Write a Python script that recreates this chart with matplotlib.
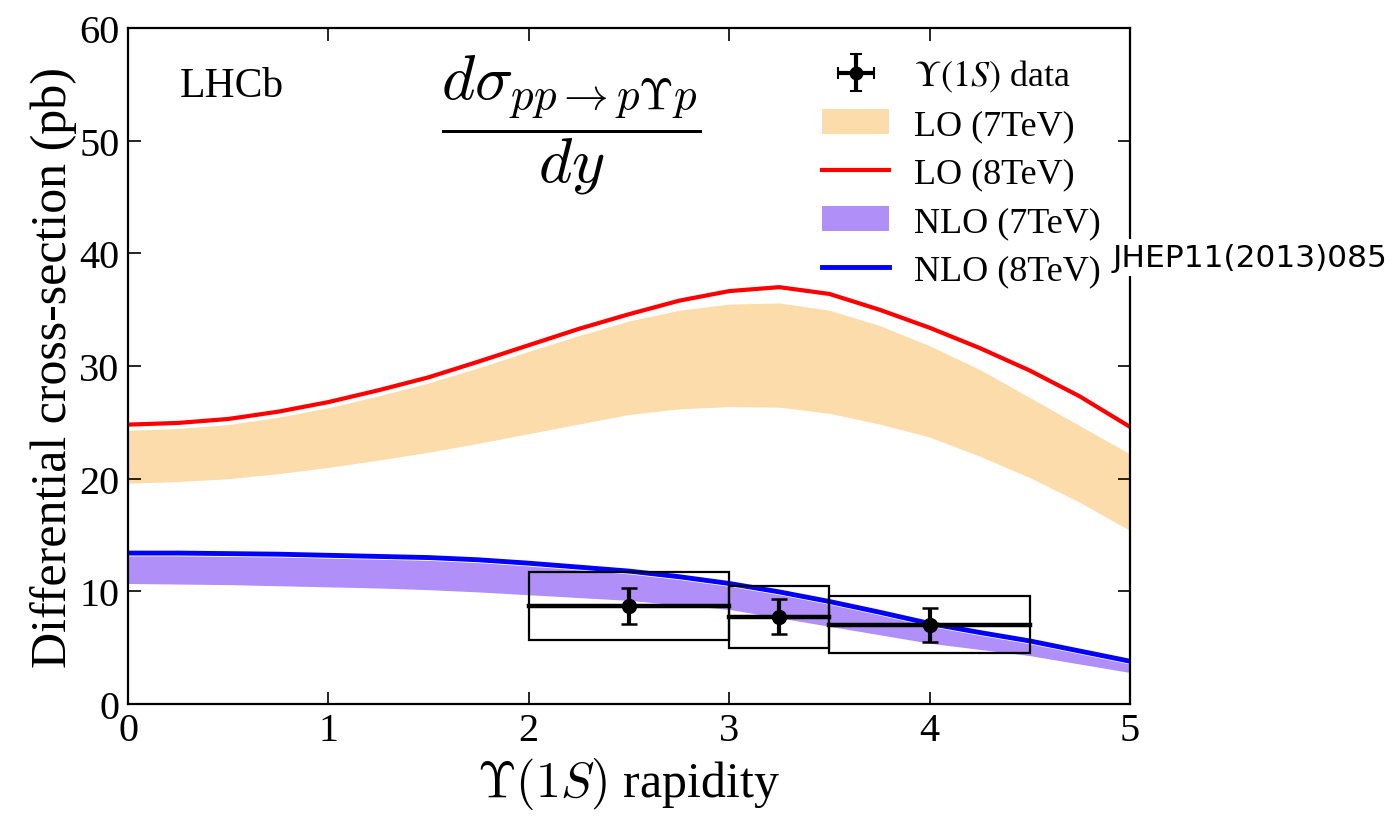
import matplotlib
matplotlib.use("Agg")
import numpy as np
import matplotlib.pyplot as plt
from matplotlib.patches import Rectangle, Patch
from matplotlib.lines import Line2D

# Rapidity grid for the theory curves
y_grid = [0.0, 0.25, 0.5, 0.75, 1.0, 1.25, 1.5, 1.75, 2.0, 2.25, 2.5,
          2.75, 3.0, 3.25, 3.5, 3.75, 4.0, 4.25, 4.5, 4.75, 5.0]

# LO 7 TeV band (pb)
lo7_upper = [24.3, 24.45, 24.8, 25.45, 26.3, 27.35, 28.5, 29.85, 31.3, 32.7, 34.0,
             34.95, 35.5, 35.6, 34.95, 33.6, 31.8, 29.7, 27.2, 24.7, 22.2]
lo7_lower = [19.6, 19.75, 20.0, 20.45, 21.0, 21.65, 22.35, 23.15, 24.0, 24.85, 25.7,
             26.2, 26.4, 26.35, 25.8, 24.85, 23.7, 22.0, 20.1, 17.9, 15.4]
# LO 8 TeV curve (pb)
lo8 = [24.8, 24.95, 25.3, 25.95, 26.8, 27.85, 29.0, 30.4, 31.85, 33.3, 34.6,
       35.8, 36.65, 37.0, 36.4, 35.0, 33.4, 31.6, 29.6, 27.3, 24.6]
# NLO 7 TeV band (pb)
nlo7_upper = [13.15, 13.15, 13.1, 13.05, 12.95, 12.85, 12.75, 12.55, 12.25, 11.9, 11.55,
              11.05, 10.45, 9.7, 8.85, 7.9, 6.9, 6.1, 5.35, 4.45, 3.55]
nlo7_lower = [10.7, 10.65, 10.6, 10.5, 10.4, 10.3, 10.15, 9.95, 9.7, 9.45, 9.2,
              8.8, 8.4, 7.65, 6.9, 6.15, 5.4, 4.85, 4.3, 3.55, 2.8]
# NLO 8 TeV curve (pb)
nlo8 = [13.4, 13.4, 13.35, 13.3, 13.2, 13.1, 13.0, 12.8, 12.5, 12.15, 11.8,
        11.3, 10.7, 9.95, 9.1, 8.15, 7.15, 6.35, 5.6, 4.7, 3.8]

# Measured Upsilon(1S) cross-section per rapidity bin
bin_low = [2.0, 3.0, 3.5]
bin_high = [3.0, 3.5, 4.5]
data_y = [2.5, 3.25, 4.0]
data_val = [8.7, 7.75, 7.05]
data_stat = [1.6, 1.55, 1.5]
data_tot = [3.0, 2.75, 2.53]

xticks = [0, 1, 2, 3, 4, 5]
yticks = [0, 10, 20, 30, 40, 50, 60]

SERIF = "Liberation Serif"
ORANGE = "#fddcab"
PURPLE = "#b08ff9"

fig = plt.figure(figsize=(13.99, 8.20), dpi=100)
ax = fig.add_axes([0.0915, 0.1402, 0.7162, 0.8244])

ax.fill_between(y_grid, lo7_lower, lo7_upper, color=ORANGE, lw=0)
ax.fill_between(y_grid, nlo7_lower, nlo7_upper, color=PURPLE, lw=0)
ax.plot(y_grid, lo8, color="#ff0000", lw=3)
ax.plot(y_grid, nlo8, color="#0000ff", lw=3.5)

for lo, hi, v, t in zip(bin_low, bin_high, data_val, data_tot):
    ax.add_patch(Rectangle((lo, v - t), hi - lo, 2 * t, fill=False,
                           edgecolor="black", lw=1.6, zorder=4))
    ax.plot([lo, hi], [v, v], color="black", lw=3.2, zorder=5)
ax.errorbar(data_y, data_val, yerr=data_stat, fmt="o", color="black",
            ms=10, elinewidth=3, capsize=6, capthick=1.8, zorder=6)

# legend handle: point with horizontal and vertical bars
data_handle = ax.errorbar([np.nan], [np.nan], xerr=[1.0], yerr=[1.0], fmt="o",
                          color="black", ms=9, elinewidth=3, capsize=4,
                          capthick=1.5)

ax.set_xlim(0, 5)
ax.set_ylim(0, 60)
ax.set_xticks(xticks)
ax.set_yticks(yticks)
ax.tick_params(direction="in", length=9, width=1.2, top=True, right=True,
               labelsize=29, pad=6)
for lab in ax.get_xticklabels() + ax.get_yticklabels():
    lab.set_fontfamily(SERIF)
for sp in ax.spines.values():
    sp.set_linewidth(1.6)

ax.set_xlabel(r"$\Upsilon(1S)$ rapidity", fontsize=36, family=SERIF,
              math_fontfamily="cm", labelpad=4)
ax.set_ylabel("Differential cross-section (pb)", fontsize=36, family=SERIF,
              labelpad=2)

ax.text(0.052, 0.9, "LHCb", transform=ax.transAxes, fontsize=30, family=SERIF)
ax.text(0.443, 0.858, r"$\dfrac{d\sigma_{pp\rightarrow p\Upsilon p}}{dy}$",
        transform=ax.transAxes, fontsize=46, math_fontfamily="cm",
        ha="center", va="center")

handles = [
    data_handle,
    Patch(facecolor=ORANGE, edgecolor="none"),
    Line2D([], [], color="#ff0000", lw=3),
    Patch(facecolor=PURPLE, edgecolor="none"),
    Line2D([], [], color="#0000ff", lw=3.5),
]
labels = [r"$\Upsilon(1S)$ data", "LO (7TeV)", "LO (8TeV)",
          "NLO (7TeV)", "NLO (8TeV)"]
leg = ax.legend(handles, labels, loc="upper right", frameon=False,
                prop={"family": SERIF, "size": 26}, handlelength=1.86,
                labelspacing=0.42, borderaxespad=0.42, handletextpad=0.67)
for t in leg.get_texts():
    t.set_math_fontfamily("stix")

fig.text(0.795, 0.685, "JHEP11(2013)085", fontsize=22.5, family="DejaVu Sans",
         va="center", ha="left",
         bbox=dict(facecolor="white", edgecolor="none", pad=3))

fig.savefig("out.png", dpi=100)
